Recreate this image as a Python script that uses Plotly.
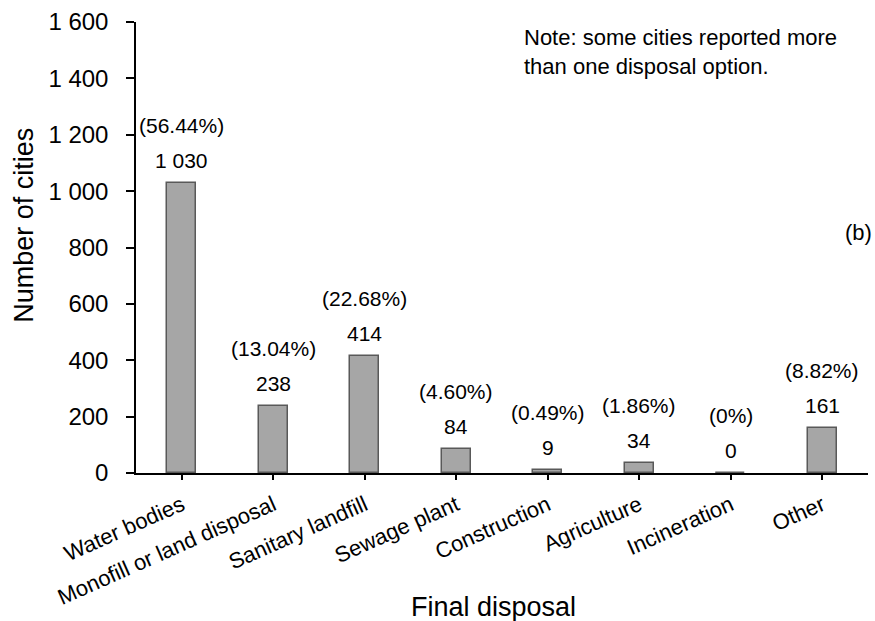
import plotly.graph_objects as go

categories = ["Water bodies", "Monofill or land disposal", "Sanitary landfill",
              "Sewage plant", "Construction", "Agriculture", "Incineration", "Other"]
cities = [1030, 238, 414, 84, 9, 34, 0, 161]
shares = ["56.44%", "13.04%", "22.68%", "4.60%", "0.49%", "1.86%", "0%", "8.82%"]
y_ticks = [0, 200, 400, 600, 800, 1000, 1200, 1400, 1600]

FONT = "Liberation Sans, Arial, sans-serif"


def spaced(n):
    return f"{n:,}".replace(",", " ")


fig = go.Figure(go.Bar(
    x=categories, y=cities, width=0.32,
    marker=dict(color="#a6a6a6", line=dict(color="#595959", width=1.5)),
    hoverinfo="x+y",
))

# value and share labels above each bar
for cat, val, pct in zip(categories, cities, shares):
    fig.add_annotation(x=cat, y=val, text=spaced(val), showarrow=False,
                       yanchor="bottom", yshift=9, font=dict(size=21, color="#000"))
    fig.add_annotation(x=cat, y=val, text=f"({pct})", showarrow=False,
                       yanchor="bottom", yshift=44, font=dict(size=21, color="#000"))

fig.add_annotation(xref="paper", yref="paper", x=0.527, y=0.997, xanchor="left", yanchor="top",
                   text="Note: some cities reported more<br>than one disposal option.",
                   align="left", showarrow=False, font=dict(size=22, color="#000"))
fig.add_annotation(xref="paper", yref="paper", x=1.008, y=0.534, xanchor="right", yanchor="middle",
                   text="(b)", showarrow=False, font=dict(size=22, color="#000"))
fig.add_annotation(xref="paper", yref="paper", x=0.488, y=-0.297, xanchor="center", yanchor="middle",
                   text="Final disposal", showarrow=False, font=dict(size=27, color="#000"))
fig.add_annotation(xref="paper", yref="paper", x=-0.153, y=0.548, xanchor="center", yanchor="middle",
                   text="Number of cities", textangle=-90, showarrow=False,
                   font=dict(size=27, color="#000"))

fig.update_layout(
    width=875, height=621,
    margin=dict(l=136, r=7, t=22, b=148),
    plot_bgcolor="white", paper_bgcolor="white",
    font=dict(family=FONT, color="#000"),
    separators=". ",
    showlegend=False,
    bargap=0,
)
fig.update_xaxes(
    range=[-0.5, 7.5], showline=True, linecolor="#000", linewidth=1.5,
    ticks="outside", ticklen=5, tickcolor="#000", tickwidth=1.5,
    tickangle=-24, tickfont=dict(size=22), showgrid=False,
    ticklabelstandoff=4,
)
fig.update_yaxes(
    range=[0, 1600], tickvals=y_ticks, tickformat=",d",
    showline=True, linecolor="#000", linewidth=1.5,
    ticks="outside", ticklen=8, tickcolor="#000", tickwidth=1.5,
    tickfont=dict(size=24), showgrid=False, zeroline=False,
    ticklabelstandoff=13,
)

fig.write_html("out.html")
